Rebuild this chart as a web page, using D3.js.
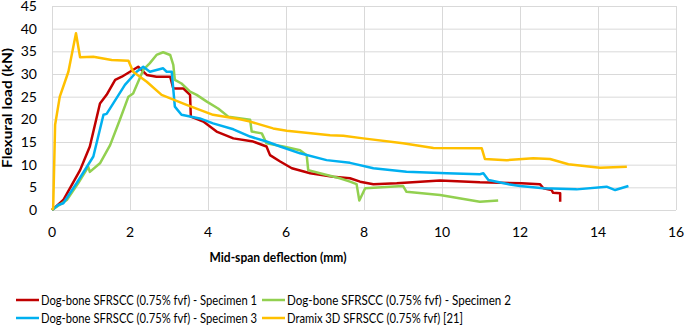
<!DOCTYPE html>
<html lang="en">
<head>
    <meta charset="UTF-8">
    <title>Flexural load vs deflection</title>
    <script src="https://d3js.org/d3.v7.min.js"></script>
    <style>
        body { margin: 0; background: #fff; }
        text { font-family: Lato, "Open Sans", sans-serif; fill: #000; }
        .grid line { stroke: #d9d9d9; stroke-width: 1; }
        .series { fill: none; stroke-width: 2.5; stroke-linejoin: round; }
    </style>
</head>
<body>
    <svg id="chart" width="685" height="336"></svg>
    <script>
        // [deflection mm, load kN]
        const specimen1 = [[0,0],[0.03,0.2],[0.29,2.2],[0.72,8.8],[0.97,14],[1.23,23.5],[1.4,25.4],[1.62,28.7],[1.79,29.4],
            [2.0,30.5],[2.21,31.6],[2.43,29.8],[2.68,29.4],[3.03,29.4],[3.11,26.8],[3.37,26.8],[3.54,25.4],[3.56,20.6],
            [3.88,19.5],[4.22,17.3],[4.65,15.8],[5.16,15.1],[5.5,14],[5.59,12.1],[5.85,10.7],[6.15,9.2],[6.62,8.1],
            [7.21,7.35],[7.64,7.0],[7.9,6.25],[8.24,5.7],[8.84,5.9],[9.95,6.5],[10.97,6.1],[11.49,6.0],[12.04,5.9],
            [12.51,5.7],[12.6,4.8],[12.81,4.4],[12.85,3.8],[13.03,3.7],[13.03,1.8]];
        const specimen2 = [[0,0],[0.38,2.2],[0.67,5.9],[0.93,9.5],[0.97,8.4],[1.23,10.3],[1.49,14.3],[1.74,19.9],[1.96,25],
            [2.08,25.7],[2.34,30.9],[2.51,32.4],[2.68,34.2],[2.85,34.8],[3.03,34.2],[3.11,32],[3.15,28.7],[3.32,27.9],
            [3.54,26.1],[3.71,25.4],[3.97,23.9],[4.26,22.4],[4.52,20.6],[5.08,19.9],[5.12,17.3],[5.38,16.9],[5.5,14.7],
            [5.93,14],[6.36,13.2],[6.53,12.1],[6.57,8.8],[6.87,8.1],[7.38,7.0],[7.64,6.25],[7.81,5.7],[7.88,2.1],
            [8.03,4.8],[9.0,5.3],[9.09,4.0],[9.95,3.3],[10.97,1.8],[11.44,2.1]];
        const specimen3 = [[0,0],[0.16,1.1],[0.29,1.5],[0.63,5.9],[1.06,11.8],[1.32,21],[1.4,21.2],[1.87,27.6],[2.17,30.5],
            [2.34,31.6],[2.51,30.5],[2.85,31.25],[2.94,30.5],[3.07,30.5],[3.15,22.8],[3.32,21],[3.79,20.2],[4.13,19.1],
            [4.65,17.8],[5.08,16.2],[5.5,15.1],[5.85,14],[6.36,12.5],[7.04,11],[7.64,10.4],[8.24,9.2],[9.09,8.45],
            [10.12,8.1],[10.97,7.9],[11.06,8.1],[11.19,6.6],[11.74,5.6],[12.0,5.3],[12.6,4.8],[13.45,4.55],[14.22,5.15],
            [14.44,4.4],[14.78,5.3]];
        const dramix = [[0,0],[0.03,0.4],[0.08,18.8],[0.2,25],[0.42,30.5],[0.615,39],[0.72,33.7],[1.06,33.8],[1.53,33.1],
            [1.96,32.9],[2.08,30.5],[2.43,28.3],[2.81,25.4],[3.45,23.2],[4.13,21],[4.82,20],[5.08,19.5],[5.67,18],
            [6.02,17.5],[7.13,16.5],[7.47,16.4],[7.98,15.8],[9.0,14.7],[9.78,13.7],[11.02,13.6],[11.1,11.25],[11.66,11],
            [12.34,11.4],[12.77,11.25],[13.24,10.1],[14.05,9.3],[14.74,9.56]];

        const seriesNames = ["Dog-bone SFRSCC (0.75% fvf) - Specimen 1", "Dog-bone SFRSCC (0.75% fvf) - Specimen 2",
            "Dog-bone SFRSCC (0.75% fvf) - Specimen 3", "Dramix 3D SFRSCC (0.75% fvf) [21]"];
        const seriesColors = ["#c00000", "#92d050", "#00b0f0", "#ffc000"];
        const xTicks = d3.range(0, 17, 2);
        const yTicks = d3.range(0, 46, 5);

        const svg = d3.select("#chart");
        const x = d3.scaleLinear().domain([0, 16]).range([52, 676]);
        const y = d3.scaleLinear().domain([0, 45]).range([210, 6]);

        // gridlines
        const grid = svg.append("g").attr("class", "grid");
        grid.selectAll(".h").data(yTicks).enter().append("line")
            .attr("x1", x(0)).attr("x2", x(16))
            .attr("y1", d => y(d) + 0.5).attr("y2", d => y(d) + 0.5);
        grid.selectAll(".v").data(xTicks).enter().append("line")
            .attr("y1", y(0)).attr("y2", y(45))
            .attr("x1", d => Math.round(x(d)) + 0.5).attr("x2", d => Math.round(x(d)) + 0.5);

        // tick labels
        svg.selectAll(".ylab").data(yTicks).enter().append("text")
            .attr("x", 37).attr("y", d => y(d) + 5)
            .attr("text-anchor", "end").attr("font-size", 14).text(d => d);
        svg.selectAll(".xlab").data(xTicks).enter().append("text")
            .attr("x", d => x(d)).attr("y", 237)
            .attr("text-anchor", "middle").attr("font-size", 14).text(d => d);

        // axis titles
        svg.append("text").attr("x", 278).attr("y", 262).attr("text-anchor", "middle")
            .attr("font-size", 13).attr("font-weight", "bold")
            .attr("textLength", 137).attr("lengthAdjust", "spacingAndGlyphs")
            .text("Mid-span deflection (mm)");
        svg.append("text").attr("transform", "translate(12,48) rotate(-90)").attr("text-anchor", "end")
            .attr("font-size", 13).attr("font-weight", "bold")
            .attr("textLength", 120).attr("lengthAdjust", "spacingAndGlyphs")
            .text("Flexural load (kN)");

        // series
        const line = d3.line().x(d => x(d[0])).y(d => y(d[1]));
        [specimen1, specimen2, specimen3, dramix].forEach((data, i) => {
            svg.append("path").attr("class", "series")
                .attr("stroke", seriesColors[i]).attr("d", line(data));
        });

        // legend
        const legendPos = [[16, 300], [262, 300], [16, 318], [262, 318]];
        const legendWidths = [216, 224, 216, 176];
        seriesNames.forEach((name, i) => {
            const [lx, ly] = legendPos[i];
            svg.append("line").attr("x1", lx).attr("x2", lx + 23).attr("y1", ly).attr("y2", ly)
                .attr("stroke", seriesColors[i]).attr("stroke-width", 2.5);
            svg.append("text").attr("x", lx + 25).attr("y", ly + 4.5)
                .attr("font-size", 12.5)
                .attr("textLength", legendWidths[i]).attr("lengthAdjust", "spacingAndGlyphs")
                .text(name);
        });
    </script>
</body>
</html>
